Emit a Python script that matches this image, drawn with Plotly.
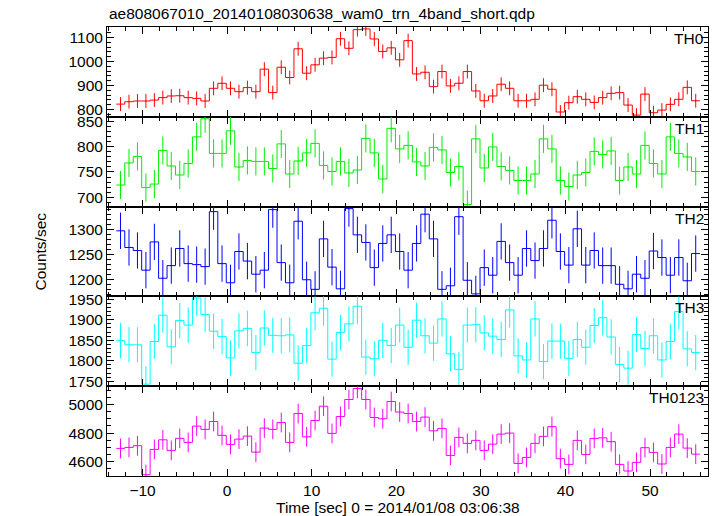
import plotly.graph_objects as go
from plotly.subplots import make_subplots

TITLE = "ae808067010_20140108030638_wam0_trn_4band_short.qdp"
XTITLE = "Time [sec] 0 = 2014/01/08 03:06:38"
YTITLE = "Counts/sec"
T_START = -12.6
BIN = 1.0

TH0 = [822, 832, 835, 835, 839, 849, 856, 857, 849, 846, 835, 888, 909, 888, 874, 891, 874, 968,
       870, 976, 933, 1053, 951, 986, 1014, 1017, 1095, 1055, 1133, 1136, 1094, 1042, 1057, 1007,
       1087, 948, 955, 895, 958, 898, 909, 958, 877, 836, 856, 905, 888, 836, 836, 842, 901, 884,
       789, 828, 853, 842, 829, 849, 867, 870, 818, 776, 864, 786, 797, 821, 842, 892, 836]
TH1 = [724, 768, 781, 719, 726, 793, 762, 744, 767, 820, 856, 787, 787, 832, 760, 773, 771, 771,
       757, 806, 746, 772, 788, 807, 763, 751, 771, 748, 754, 817, 788, 736, 837, 796, 803, 770,
       762, 799, 794, 749, 761, 685, 816, 758, 800, 761, 753, 733, 733, 746, 816, 796, 733, 721,
       744, 749, 791, 785, 792, 733, 760, 746, 803, 767, 746, 820, 787, 780, 751]
TH2 = [1297, 1264, 1258, 1219, 1275, 1203, 1228, 1262, 1232, 1230, 1226, 1335, 1232, 1194, 1256,
       1237, 1211, 1219, 1339, 1234, 1194, 1316, 1200, 1181, 1281, 1225, 1182, 1341, 1289, 1274,
       1224, 1272, 1289, 1256, 1219, 1272, 1330, 1281, 1181, 1188, 1325, 1199, 1172, 1224, 1209,
       1276, 1234, 1209, 1262, 1238, 1262, 1318, 1256, 1229, 1301, 1229, 1258, 1228, 1228, 1191,
       1182, 1211, 1203, 1257, 1244, 1209, 1244, 1198, 1252]
TH3 = [1849, 1839, 1839, 1743, 1847, 1911, 1834, 1898, 1887, 1953, 1913, 1872, 1859, 1807, 1873,
       1879, 1820, 1880, 1862, 1861, 1863, 1794, 1837, 1917, 1928, 1804, 1869, 1890, 1933, 1809,
       1805, 1850, 1837, 1887, 1833, 1899, 1861, 1843, 1902, 1817, 1779, 1887, 1888, 1868, 1860,
       1852, 1924, 1812, 1802, 1902, 1798, 1848, 1848, 1806, 1852, 1833, 1886, 1905, 1858, 1791,
       1782, 1864, 1830, 1861, 1802, 1847, 1920, 1829, 1820]
TH0123 = [4693, 4700, 4712, 4509, 4686, 4753, 4679, 4763, 4735, 4849, 4826, 4881, 4784, 4721, 4758,
          4779, 4667, 4835, 4826, 4874, 4735, 4937, 4774, 4888, 4988, 4798, 4916, 5035, 5112, 5035,
          4909, 4900, 5021, 4947, 4937, 4881, 4912, 4816, 4833, 4644, 4770, 4728, 4749, 4679, 4723,
          4793, 4800, 4588, 4630, 4728, 4777, 4845, 4621, 4581, 4749, 4651, 4763, 4767, 4740, 4581,
          4535, 4595, 4698, 4665, 4584, 4700, 4793, 4695, 4653]
ERR = [29, 28, 36, 43, 69]

SERIES = [TH0, TH1, TH2, TH3, TH0123]
LABELS = ["TH0", "TH1", "TH2", "TH3", "TH0123"]
COLORS = ["#ff0000", "#00f000", "#0000ff", "#00ffff", "#ff00ff"]
YRANGES = [[769, 1144], [681, 860], [1167, 1345], [1738, 1957], [4500, 5128]]
YTICKS = [[800, 900, 1000, 1100], [700, 750, 800, 850], [1200, 1250, 1300],
          [1750, 1800, 1850, 1900, 1950], [4600, 4800, 5000]]
YMINOR = [20, 10, 10, 10, 50]
XRANGE = [-14.2, 56.85]
XTICKS = [-10, 0, 10, 20, 30, 40, 50]

FONT = "Liberation Sans, Arial, Helvetica, sans-serif"

fig = make_subplots(rows=5, cols=1, shared_xaxes=True, vertical_spacing=0)

for i, vals in enumerate(SERIES):
    n = len(vals)
    t = [T_START + k * BIN for k in range(n)]
    edges = [c - BIN / 2 for c in t] + [t[-1] + BIN / 2]
    ystep = list(vals) + [vals[-1]]
    fig.add_trace(go.Scatter(x=edges, y=ystep, mode="lines", line=dict(color=COLORS[i], width=1, shape="hv"),
                             showlegend=False, hoverinfo="skip"), row=i + 1, col=1)
    fig.add_trace(go.Scatter(x=t, y=vals, mode="markers", marker=dict(size=1, color=COLORS[i]),
                             error_y=dict(type="constant", value=ERR[i], width=0, thickness=1, color=COLORS[i]),
                             showlegend=False), row=i + 1, col=1)
    r = i + 1
    fig.update_yaxes(range=YRANGES[i], tickmode="array", tickvals=YTICKS[i], ticks="inside", ticklen=7,
                     tickwidth=1, tickcolor="black", mirror="allticks", showline=True, linecolor="black",
                     linewidth=1, showgrid=False, zeroline=False, automargin=False,
                     minor=dict(dtick=YMINOR[i], ticks="inside", ticklen=4, tickcolor="black", showgrid=False),
                     tickfont=dict(family=FONT, size=15.5, color="black"), row=r, col=1)
    fig.update_xaxes(range=XRANGE, tickmode="array", tickvals=XTICKS, ticks="inside", ticklen=7,
                     tickwidth=1, tickcolor="black", mirror="allticks", showline=True, linecolor="black",
                     linewidth=1, showgrid=False, zeroline=False, automargin=False,
                     minor=dict(dtick=2, tick0=0, ticks="inside", ticklen=4, tickcolor="black", showgrid=False),
                     showticklabels=(r == 5), ticktext=["\u221210", "0", "10", "20", "30", "40", "50"],
                     tickfont=dict(family=FONT, size=15.5, color="black"), row=r, col=1)
    fig.add_annotation(text=LABELS[i], xref="x domain" if r == 1 else f"x{r} domain",
                       yref="y domain" if r == 1 else f"y{r} domain", x=1, y=1, xanchor="right", yanchor="top",
                       xshift=-2, yshift=-1, showarrow=False, font=dict(family=FONT, size=15.5, color="black"))

fig.add_annotation(text=TITLE, xref="paper", yref="paper", x=0, y=1 + (27 - 13) / 449, xanchor="left",
                   yanchor="middle", showarrow=False, font=dict(family=FONT, size=15.5, color="black"))
fig.add_annotation(text=YTITLE, xref="paper", yref="paper", x=(40 - 107) / 601, y=0.5, textangle=-90,
                   xanchor="center", yanchor="middle", showarrow=False,
                   font=dict(family=FONT, size=15.5, color="black"))
fig.add_annotation(text=XTITLE, xref="paper", yref="paper", x=(398 - 107) / 601, y=(476 - 507) / 449,
                   xanchor="center", yanchor="middle", showarrow=False,
                   font=dict(family=FONT, size=15.5, color="black"))

fig.update_layout(width=717, height=516, margin=dict(l=107, r=9, t=27, b=40),
                  paper_bgcolor="white", plot_bgcolor="white", showlegend=False, hovermode=False)
fig.write_html("out.html", config={"displayModeBar": False, "staticPlot": True},
               post_script="document.body.style.margin='0';")
